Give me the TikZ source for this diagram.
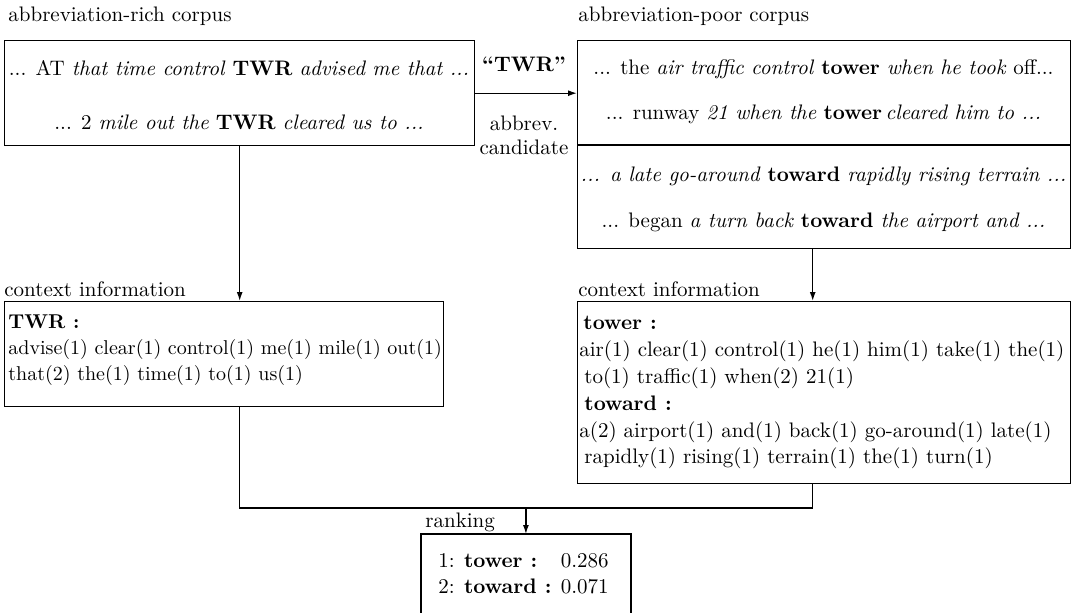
\documentclass[tikz,border=0pt]{standalone}
\usetikzlibrary{arrows.meta}
\newcommand{\dts}{...}
\begin{document}
\begin{tikzpicture}[x=0.5pt,y=-0.5pt,
  font=\fontsize{10.5}{12.6}\selectfont,
  box/.style={draw,line width=0.7pt,inner sep=0pt,anchor=north west},
  frame/.style={inner sep=0pt,anchor=north west},
  txt/.style={inner sep=0pt,anchor=base west},
  ctr/.style={inner sep=0pt,anchor=base},
  small/.style={font=\fontsize{10}{12}\selectfont},
  conn/.style={line width=0.7pt},
  arr/.style={conn,-{Latex[length=4.5pt,width=3pt]}}]
\useasboundingbox (0,0) rectangle (1074,612);
% boxes
\node[box,minimum width=235pt,minimum height=52.5pt] (rich) at (4,40) {};
\node[box,minimum width=246.5pt,minimum height=104pt] (poor) at (577,40) {};
\node[box,minimum width=219.5pt,minimum height=52.5pt] (ctxL) at (4,301) {};
\node[box,minimum width=246.5pt,minimum height=91pt] (ctxR) at (577,301) {};
\node[frame,minimum width=104.5pt,minimum height=39pt] (rank) at (421,534) {};
\draw[conn] (rank.south west) -- (rank.north west) -- (rank.north east) -- (rank.south east);
\draw[conn] (poor.west |- 0,145) -- (poor.east |- 0,145);
% titles
\node[txt] (t1) at (8,21) {abbreviation-rich corpus};
\node[txt] (t2) at (578,21) {abbreviation-poor corpus};
\node[txt] (t3) at (4,296) {context information};
\node[txt] (t4) at (578,296) {context information};
\node[txt] (t5) at (425,527) {ranking};
% rich corpus lines
\node[ctr] (r1) at (239,75) {\dts{} AT \textit{that time control} \textbf{TWR} \textit{advised me that \dts}};
\node[ctr] (r2) at (239,129) {\dts{} 2 \textit{mile out the} \textbf{TWR} \textit{cleared us to \dts}};
% poor corpus lines
\node[ctr] (p1) at (823.5,74) {\dts{} the \textit{air traffic control} \textbf{tower} \textit{when he took} off\dts};
\node[ctr] (p2) at (823.5,119) {\dts{} runway \textit{21 when the} \textbf{tower}\,\textit{cleared him to \dts}};
\node[ctr] (p3) at (823.5,181) {\textit{\dts{} a late go-around} \textbf{toward} \textit{rapidly rising terrain \dts}};
\node[ctr] (p4) at (823.5,227) {\dts{} began \textit{a turn back} \textbf{toward} \textit{the airport and \dts}};
% arrow labels
\node[ctr] (lq) at (524,71) {\textbf{``TWR''}};
\node[ctr] (la) at (524,130) {abbrev.};
\node[ctr] (lc) at (524,154) {candidate};
% left context
\node[txt,small] (c1) at (8,328) {\textbf{TWR :}};
\node[txt,small] (c2) at (8,354) {advise(1) clear(1) control(1) me(1) mile(1) out(1)};
\node[txt,small] (c3) at (8,380) {that(2) the(1) time(1) to(1) us(1)};
% right context
\node[txt] (d1) at (583,329) {\textbf{tower :}};
\node[txt] (d2) at (579,356) {air(1) clear(1) control(1) he(1) him(1) take(1) the(1)};
\node[txt] (d3) at (584,383) {to(1) traffic(1) when(2) 21(1)};
\node[txt] (d4) at (584,410) {\textbf{toward :}};
\node[txt] (d5) at (579,437) {a(2) airport(1) and(1) back(1) go-around(1) late(1)};
\node[txt] (d6) at (584,463) {rapidly(1) rising(1) terrain(1) the(1) turn(1)};
% ranking
\node[txt] (k1) at (438,567) {1: \textbf{tower :}};
\node[txt] (k2) at (438,593) {2: \textbf{toward :} 0.071};
\node[inner sep=0pt,anchor=base east] (k1v) at (k2.base east |- k1.base) {0.286};
% connectors
\draw[arr] (rich.east) -- (rich.east -| poor.west);
\draw[arr] (rich.south) -- (rich.south |- ctxL.north);
\draw[arr] ([xshift=-5.75pt]poor.south) -- ([xshift=-5.75pt]poor.south |- ctxR.north);
\coordinate (j) at (rank.north |- 0,508);
\draw[conn] (rich.south |- ctxL.south) |- (j) -| ([xshift=-5.75pt]poor.south |- ctxR.south);
\draw[arr] (j) -- (rank.north);
\end{tikzpicture}
\end{document}
